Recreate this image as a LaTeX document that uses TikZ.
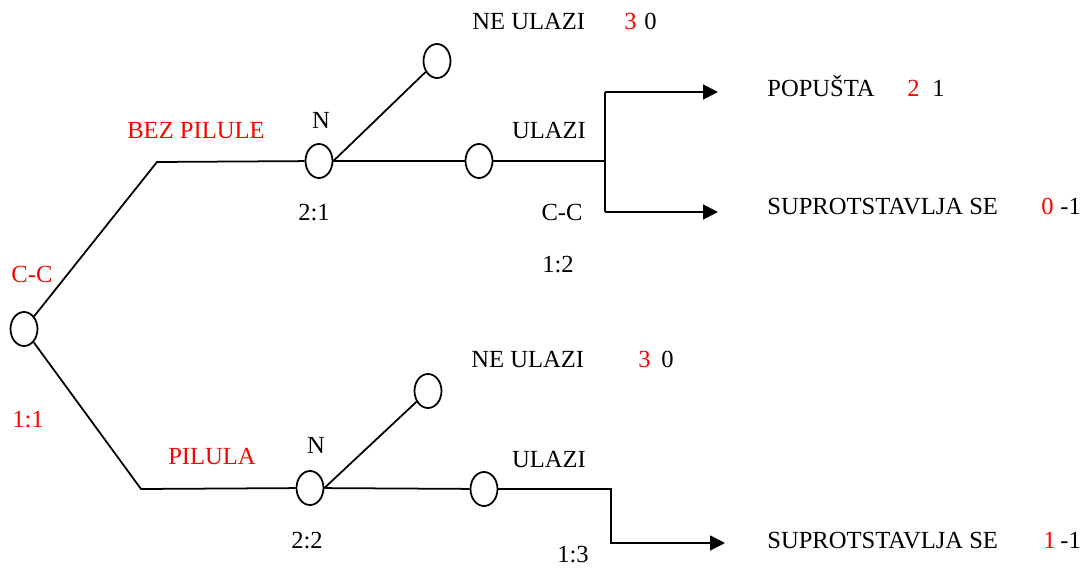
\documentclass[tikz,border=0pt]{standalone}
\usepackage{fontspec}
\setmainfont{Liberation Serif}
\usetikzlibrary{shapes.geometric,arrows.meta}
\tikzset{
  dnode/.style={ellipse,draw,line width=1pt,minimum width=0.54cm,minimum height=0.68cm,inner sep=0pt},
  edge/.style={line width=1pt},
  thickedge/.style={line width=1.6pt},
  arr/.style={line width=1pt,-{Triangle[length=0.3cm,width=0.3cm]}},
  lbl/.style={font=\fontsize{14}{16}\selectfont,inner sep=0pt,text height=0.66em,text depth=0pt},
  wlbl/.style={lbl,anchor=west},
  rlbl/.style={lbl,text=red},
  rwlbl/.style={wlbl,text=red}
}
\begin{document}
\begin{tikzpicture}[x=0.02cm,y=-0.02cm]
\useasboundingbox (0,0) rectangle (1086,571);
% decision nodes
\node[dnode] (r) at (24,329) {};
\node[dnode] (n1) at (319,161) {};
\node[dnode] (c1) at (437,61) {};
\node[dnode] (u1) at (479,161) {};
\node[dnode] (n2) at (310,488) {};
\node[dnode] (c2) at (428,391) {};
\node[dnode] (u2) at (484,489) {};
% helper coordinates
\coordinate (k1) at (157,162);
\coordinate (k2) at (141,489);
\coordinate (b1) at (605,161);
\coordinate (b1t) at (605,92);
\coordinate (b1b) at (605,212);
\coordinate (e1) at (718,92);
\coordinate (e2) at (718,212);
\coordinate (b2) at (611,489);
\coordinate (b2b) at (611,543);
\coordinate (e3) at (725,543);
% connectors
\draw[edge] (r) -- (k1) -- (n1);
\draw[edge] (r) -- (k2) -- (n2);
\draw[edge] (n1.east) -- (c1);
\draw[edge] (n1) -- (u1);
\draw[thickedge] (u1) -- (b1);
\draw[edge] (b1t) -- (b1b);
\draw[arr] (b1t) -- (e1);
\draw[arr] (b1b) -- (e2);
\draw[edge] (n2.east) -- (c2);
\draw[edge] (n2) -- (u2);
\draw[arr] (u2) -- (b2) -- (b2b) -- (e3);
% labels
\node[rlbl] (lcc) at (32,277) {C-C};
\node[rlbl] (l11) at (28,422) {1:1};
\node[rlbl] (lbez) at (196,133) {BEZ PILULE};
\node[rlbl] (lpil) at (212,459) {PILULA};
\node[lbl] (ln1) at (321,123) {N};
\node[lbl] (l21) at (314,215) {2:1};
\node[lbl] (ln2) at (316,448) {N};
\node[lbl] (l22) at (307,543) {2:2};
\node[lbl] (lu1) at (549,133) {ULAZI};
\node[lbl] (lcc2) at (562,215) {C-C};
\node[lbl] (l12) at (558,267) {1:2};
\node[lbl] (lu2) at (549,462) {ULAZI};
\node[lbl] (l13) at (573,557) {1:3};
% outcomes
\node[wlbl] (ne1) at (472,24) {NE ULAZI};
\node[rwlbl] (ne1a) at (624,24) {3};
\node[wlbl] (ne1b) at (644,24) {0};
\node[wlbl] (po) at (767,91) {POPUŠTA};
\node[rwlbl] (poa) at (907,91) {2};
\node[wlbl] (pob) at (932,91) {1};
\node[wlbl] (su1) at (767,209) {SUPROTSTAVLJA SE};
\node[rwlbl] (su1a) at (1041,209) {0};
\node[wlbl] (su1b) at (1060,209) {-1};
\node[wlbl] (ne2) at (471,362) {NE ULAZI};
\node[rwlbl] (ne2a) at (638,362) {3};
\node[wlbl] (ne2b) at (661,362) {0};
\node[wlbl] (su2) at (767,543) {SUPROTSTAVLJA SE};
\node[rwlbl] (su2a) at (1043,543) {1};
\node[wlbl] (su2b) at (1060,543) {-1};
\end{tikzpicture}
\end{document}
